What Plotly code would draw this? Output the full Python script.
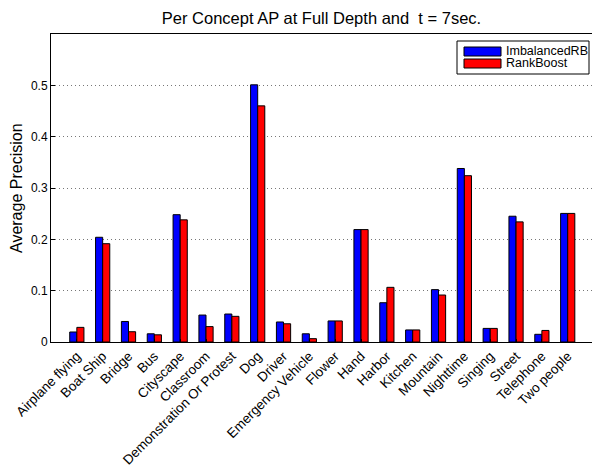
import plotly.graph_objects as go

categories = ["Airplane flying", "Boat Ship", "Bridge", "Bus", "Cityscape", "Classroom",
              "Demonstration Or Protest", "Dog", "Driver", "Emergency Vehicle", "Flower",
              "Hand", "Harbor", "Kitchen", "Mountain", "Nighttime", "Singing", "Street",
              "Telephone", "Two people"]
imbalanced_rb = [0.0195, 0.204, 0.040, 0.016, 0.248, 0.0525, 0.0545, 0.501, 0.039, 0.016,
                 0.041, 0.219, 0.0765, 0.0235, 0.102, 0.338, 0.0265, 0.245, 0.015, 0.2505]
rankboost = [0.0285, 0.1915, 0.020, 0.014, 0.238, 0.030, 0.050, 0.460, 0.0355, 0.0065,
             0.041, 0.219, 0.1065, 0.0235, 0.0915, 0.324, 0.0265, 0.234, 0.0225, 0.2505]
series_names = ["ImbalancedRB", "RankBoost"]
series_colors = ["#0000ff", "#ff0000"]
y_ticks = [0, 0.1, 0.2, 0.3, 0.4, 0.5]
title_text = "Per Concept AP at Full Depth and  t = 7sec."
y_title = "Average Precision"

W, H = 592, 467
ML, MR, MT, MB = 51, 0, 34, 125
PW, PH = W - ML - MR, H - MT - MB
FONT = "Liberation Sans, Arial, Helvetica, sans-serif"

fig = go.Figure()
for name, vals, col in zip(series_names, [imbalanced_rb, rankboost], series_colors):
    fig.add_trace(go.Bar(x=categories, y=vals, name=name,
                         marker=dict(color=col, line=dict(color="#000000", width=1)),
                         showlegend=False))

def px2paper(px, py):
    return (px - ML) / PW, (H - MB - py) / PH

shapes = []
annotations = []
# legend box
x0, y0 = px2paper(457, 74)
x1, y1 = px2paper(589, 41)
shapes.append(dict(type="rect", xref="paper", yref="paper", x0=x0, y0=y0, x1=x1, y1=y1,
                   line=dict(color="black", width=1), fillcolor="white", layer="above"))
row_centers = [51.5, 63.5]
for name, col, cy in zip(series_names, series_colors, row_centers):
    sx0, sy0 = px2paper(464, cy + 4.5)
    sx1, sy1 = px2paper(501, cy - 4.5)
    shapes.append(dict(type="rect", xref="paper", yref="paper", x0=sx0, y0=sy0, x1=sx1, y1=sy1,
                       line=dict(color="black", width=1), fillcolor=col, layer="above"))
    tx, ty = px2paper(503.5, cy)
    annotations.append(dict(xref="paper", yref="paper", x=tx, y=ty, text=name, showarrow=False,
                            xanchor="left", yanchor="middle",
                            font=dict(family=FONT, size=12.5, color="black")))

# y title
yx, yy = px2paper(16, MT + PH / 2)
annotations.append(dict(xref="paper", yref="paper", x=yx, y=yy, text=y_title, showarrow=False,
                        textangle=-90, xanchor="center", yanchor="middle",
                        font=dict(family=FONT, size=16, color="black")))

fig.update_layout(
    width=W, height=H,
    margin=dict(l=ML, r=MR, t=MT, b=MB, pad=0, autoexpand=False),
    paper_bgcolor="white", plot_bgcolor="white",
    barmode="group", bargap=0.45, bargroupgap=0.0,
    title=dict(text=title_text, x=(ML + PW / 2) / W, xanchor="center",
               y=1 - 18.5 / H, yanchor="middle", yref="container", automargin=False,
               font=dict(family=FONT, size=16.5, color="black")),
    font=dict(family=FONT, color="black"),
    shapes=shapes, annotations=annotations,
)
fig.update_xaxes(range=[-1, 19.94], tickangle=-45, showline=True, linecolor="black",
                 linewidth=1, mirror=True, ticks="inside", ticklen=3, tickcolor="black",
                 automargin=False,
                 showgrid=False, tickfont=dict(family=FONT, size=13.5, color="black"))
fig.update_yaxes(range=[0, 0.6], tickvals=y_ticks, ticktext=[f"{v:g}" for v in y_ticks],
                 showline=True, linecolor="black", linewidth=1, mirror=False,
                 ticks="inside", ticklen=4, tickcolor="black", automargin=False,
                 showgrid=True, gridcolor="#777777", griddash="1px,3px", gridwidth=1,
                 zeroline=False, tickfont=dict(family=FONT, size=12, color="black"))

fig.write_html("out.html", config={"displayModeBar": False},
               post_script="document.body.style.margin='0';document.body.style.padding='0';"
                           "document.documentElement.style.overflow='hidden';")
